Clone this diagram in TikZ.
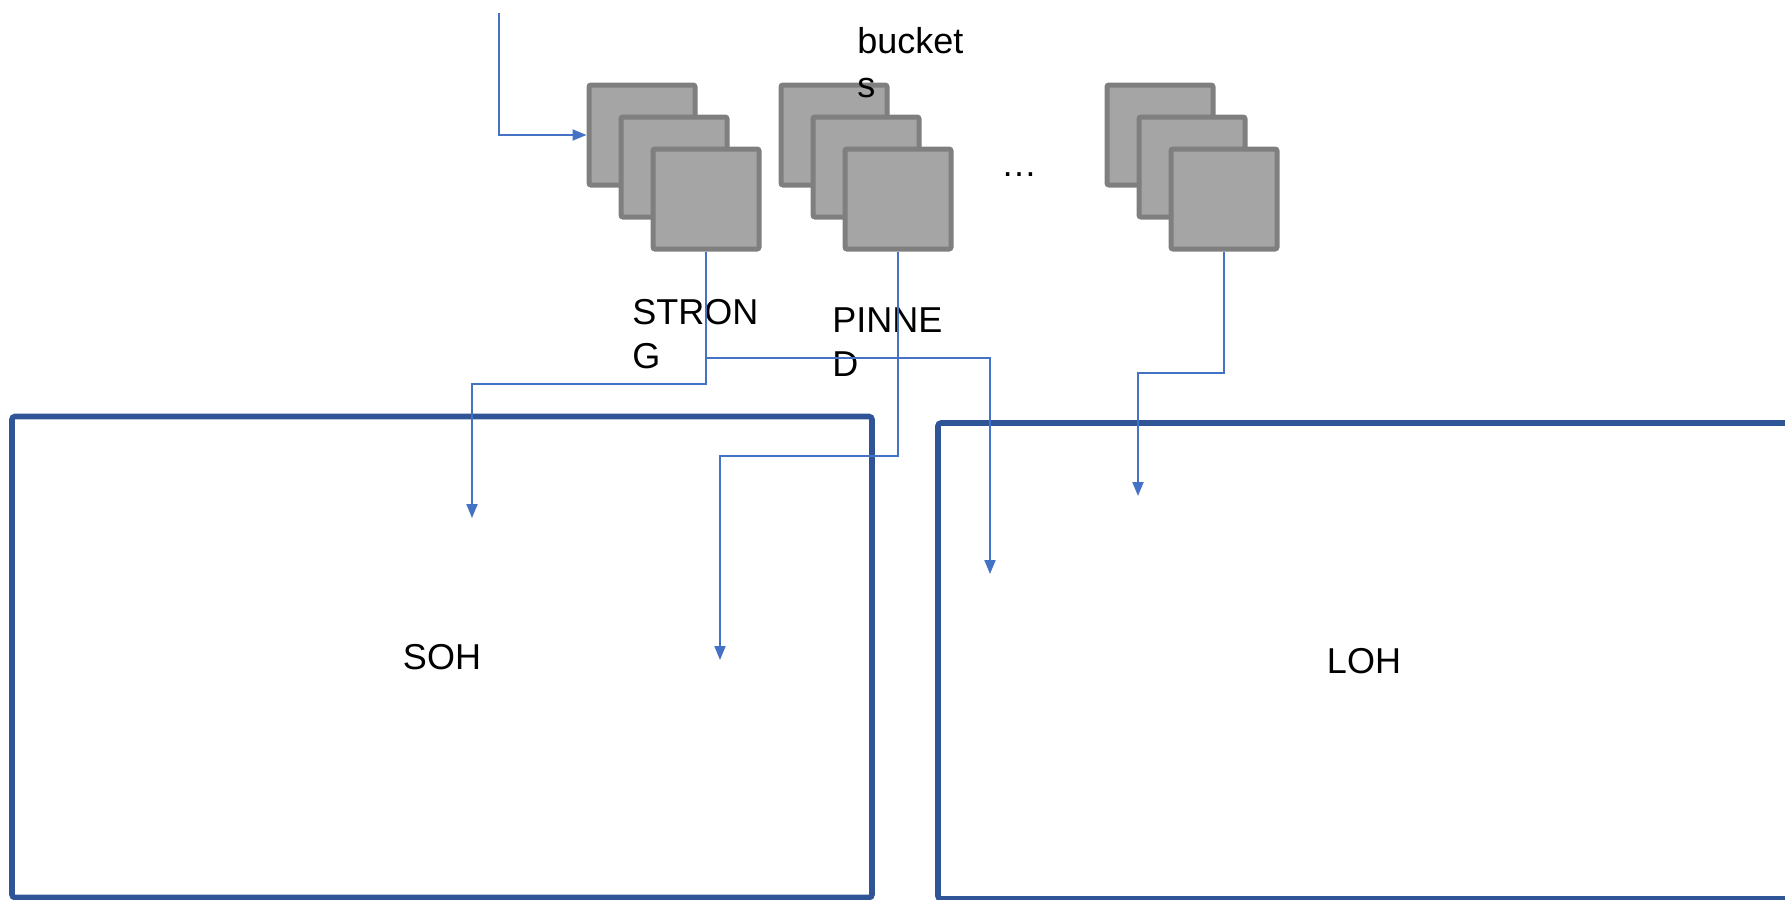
\documentclass[tikz,border=0pt]{standalone}
\usepackage{fontspec}
\setmainfont{Liberation Sans}
\usetikzlibrary{positioning,arrows.meta}
\definecolor{bucketfill}{HTML}{A5A5A5}
\definecolor{bucketline}{HTML}{7F7F7F}
\definecolor{hostline}{HTML}{2F5597}
\definecolor{arrline}{HTML}{4472C4}

\begin{document}
\begin{tikzpicture}[
    x=0.5pt, y=-0.5pt,
    bucket/.style={draw=bucketline, fill=bucketfill, line width=2.5pt, rounded corners=1pt, minimum width=53pt, minimum height=50pt, inner sep=0pt},
    host/.style={draw=hostline, line width=2.8pt, rounded corners=1.5pt, align=center, font=\fontsize{18}{22}\selectfont},
    lbl/.style={inner sep=0pt, align=left, font=\fontsize{18}{22}\selectfont},
    arr/.style={-{Triangle[length=7pt, width=5.5pt]}, draw=arrline, line width=1pt}
]
    \clip (0,0) rectangle (1785,900);
    \node[host, minimum width=430pt, minimum height=240.5pt] (soh) at (442,657) {SOH};
    \node[host, minimum width=426pt, minimum height=238pt] (loh) at (1364,661) {LOH};
    % three stacks of buckets, back to front
    \foreach \n/\x in {1/642,2/834,3/1160} {
        \node[bucket] (s\n-a) at (\x,135) {};
        \node[bucket] (s\n-b) at (\x+32,167) {};
        \node[bucket] (s\n-c) at (\x+64,199) {};
    }
    \node[lbl, anchor=base] (dots) at (1019,176) {…};
    \node[lbl, anchor=base west] (bucketlbl) at (857,97) {bucket\\s};
    \node[lbl, anchor=base west] (stronglbl) at (632,368) {STRON\\G};
    \node[lbl, anchor=base west] (pinnedlbl) at (832,376) {PINNE\\D};
    % arrow ends inside the two hosts
    \coordinate (inTop) at (499,13);
    \coordinate (sohA) at (472,518);
    \coordinate (sohB) at (720,660);
    \coordinate (lohA) at (990,574);
    \coordinate (lohB) at (1138,496);
    \draw[arr] (inTop) |- (s1-a.west);
    \draw[arr] (s1-c.south) |- (472,384) -- (sohA);
    \draw[arr] (s1-c.south) |- (990,358) -- (lohA);
    \draw[arr] (s2-c.south) |- (720,456) -- (sohB);
    \draw[arr] (s3-c.south) |- (1138,373) -- (lohB);
\end{tikzpicture}
\end{document}
